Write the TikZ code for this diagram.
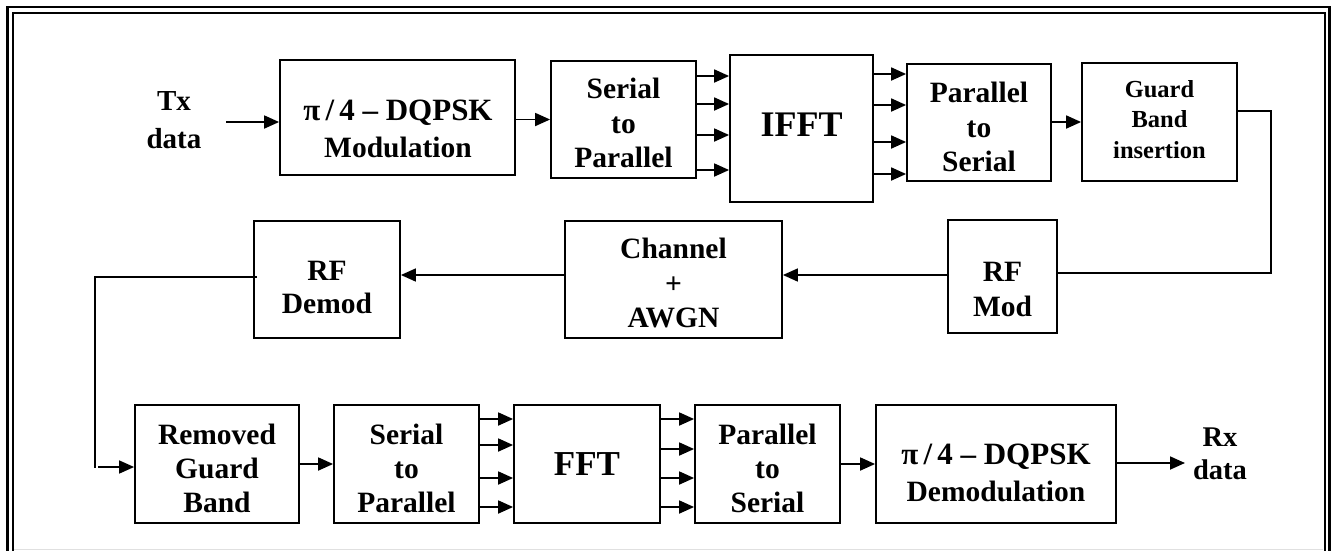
\documentclass[tikz,border=0pt]{standalone}
\usepackage{fontspec}
\setmainfont{Liberation Serif}
\usetikzlibrary{arrows.meta,calc}

\begin{document}
\begin{tikzpicture}[x=1pt,y=-1pt,
  blk/.style={draw, line width=1.8pt, inner sep=0pt},
  lbl/.style={inner sep=0pt, align=center, font=\bfseries\fontsize{29.5}{34.5}\selectfont},
  arr/.style={line width=1.8pt, -{Triangle[length=15pt,width=13pt]}},
  wire/.style={line width=1.6pt},
  frameout/.style={line width=2.5pt},
  framein/.style={line width=2pt},
]
\useasboundingbox (0,0) rectangle (1331,550);

% double frame, open at the bottom
\draw[frameout] (7.5,556) -- (7.5,7) -- (1329.5,7) -- (1329.5,556);
\draw[framein]  (12.5,556) -- (12.5,13) -- (1325,13) -- (1325,556);
\draw[black!12, line width=1pt] (14,549.5) -- (1323,549.5);

% ---- transmitter row ----
\node[blk, minimum width=235, minimum height=115] (mod)   at (397.5,117.5) {};
\node[blk, minimum width=145, minimum height=117] (sp1)   at (623.5,119.5) {};
\node[blk, minimum width=143, minimum height=147] (ifft)  at (801.5,128.5) {};
\node[blk, minimum width=144, minimum height=117] (ps1)   at (979,122.5) {};
\node[blk, minimum width=155, minimum height=118] (gbi)   at (1159.5,122) {};

% ---- channel row ----
\node[blk, minimum width=109, minimum height=113] (rfmod) at (1002.5,276.5) {};
\node[blk, minimum width=217, minimum height=117] (chan)  at (673.5,279.5) {};
\node[blk, minimum width=146, minimum height=117] (rfdem) at (327,279.5) {};

% ---- receiver row ----
\node[blk, minimum width=164, minimum height=118] (rgb)   at (217,464) {};
\node[blk, minimum width=145, minimum height=118] (sp2)   at (406.5,464) {};
\node[blk, minimum width=146, minimum height=118] (fft)   at (587,464) {};
\node[blk, minimum width=145, minimum height=118] (ps2)   at (767.5,464) {};
\node[blk, minimum width=240, minimum height=118] (dem)   at (996,464) {};

% ---- labels ----
\node[lbl, font=\bfseries\fontsize{29}{38}\selectfont] (ttx) at (174,120) {Tx\\data};
\node[lbl, font=\bfseries\fontsize{29.5}{37}\selectfont] (tmod) at (398,129)
  {{\fontsize{31}{37}\selectfont π\,/\,4 – DQPSK}\\Modulation};
\node[lbl] (tsp1) at (623.5,123) {Serial\\to\\Parallel};
\node[lbl, font=\bfseries\fontsize{36}{40}\selectfont] (tifft) at (801.5,124.5) {IFFT};
\node[lbl] (tps1) at (979,127) {Parallel\\to\\Serial};
\node[lbl, font=\bfseries\fontsize{24.5}{30.5}\selectfont] (tgbi) at (1159.5,119.5) {Guard\\Band\\insertion};
\node[lbl, font=\bfseries\fontsize{29.5}{35}\selectfont] (trfmod) at (1002.5,289) {RF\\Mod};
\node[lbl] (tchan) at (673.5,283) {Channel\\+\\AWGN};
\node[lbl, font=\bfseries\fontsize{29.5}{33}\selectfont] (trfdem) at (327,287.5) {RF\\Demod};
\node[lbl, font=\bfseries\fontsize{29.5}{34}\selectfont] (trgb) at (217,468.5) {Removed\\Guard\\Band};
\node[lbl, font=\bfseries\fontsize{29.5}{34}\selectfont] (tsp2) at (406.5,468.5) {Serial\\to\\Parallel};
\node[lbl, font=\bfseries\fontsize{35}{40}\selectfont] (tfft) at (587,464) {FFT};
\node[lbl, font=\bfseries\fontsize{29.5}{34}\selectfont] (tps2) at (767.5,468.5) {Parallel\\to\\Serial};
\node[lbl, font=\bfseries\fontsize{29.5}{37}\selectfont] (tdem) at (996,473)
  {{\fontsize{31}{37}\selectfont π\,/\,4 – DQPSK}\\Demodulation};
\node[lbl, font=\bfseries\fontsize{28.5}{33}\selectfont] (trx) at (1220,454) {Rx\\data};

% ---- transmitter connectors ----
\coordinate (txin) at (226,122);
\draw[arr] (txin) -- (txin -| mod.west);
\draw[arr] (sp1.west -| mod.east) -- (sp1.west);
\foreach \yy in {76,104,135,170}
  \draw[arr] (sp1.east |- 0,\yy) -- (ifft.west |- 0,\yy);
\foreach \yy in {74,105,142,174}
  \draw[arr] (ifft.east |- 0,\yy) -- (ps1.west |- 0,\yy);
\draw[arr] (gbi.west -| ps1.east) -- (gbi.west);

% ---- loop down to the channel ----
\coordinate (drop) at (1271,111);
\draw[wire] (gbi.east |- drop) -- (drop) -- (drop |- 0,273) -- (rfmod.east |- 0,273);
\draw[arr, line width=1.6pt] (rfmod.west |- 0,275) -- (chan.east |- 0,275);
\draw[arr, line width=1.6pt] (chan.west |- 0,275) -- (rfdem.east |- 0,275);

% ---- loop down to the receiver ----
\coordinate (turn) at (95,277);
\draw[wire] ([xshift=4pt]rfdem.west |- turn) -- (turn) -- (turn |- 0,468);
\draw[arr, line width=1.6pt] (98,467) -- (rgb.west |- 0,467);

% ---- receiver connectors ----
\draw[arr] (rgb.east) -- (sp2.west);
\foreach \yy in {419,445,478,507}
  \draw[arr] (sp2.east |- 0,\yy) -- (fft.west |- 0,\yy);
\foreach \yy in {419,449,478,507}
  \draw[arr] (fft.east |- 0,\yy) -- (ps2.west |- 0,\yy);
\draw[arr] (dem.west -| ps2.east) -- (dem.west);
\coordinate (rxend) at (1185,463);
\draw[arr] (dem.east |- rxend) -- (rxend);

\end{tikzpicture}
\end{document}
